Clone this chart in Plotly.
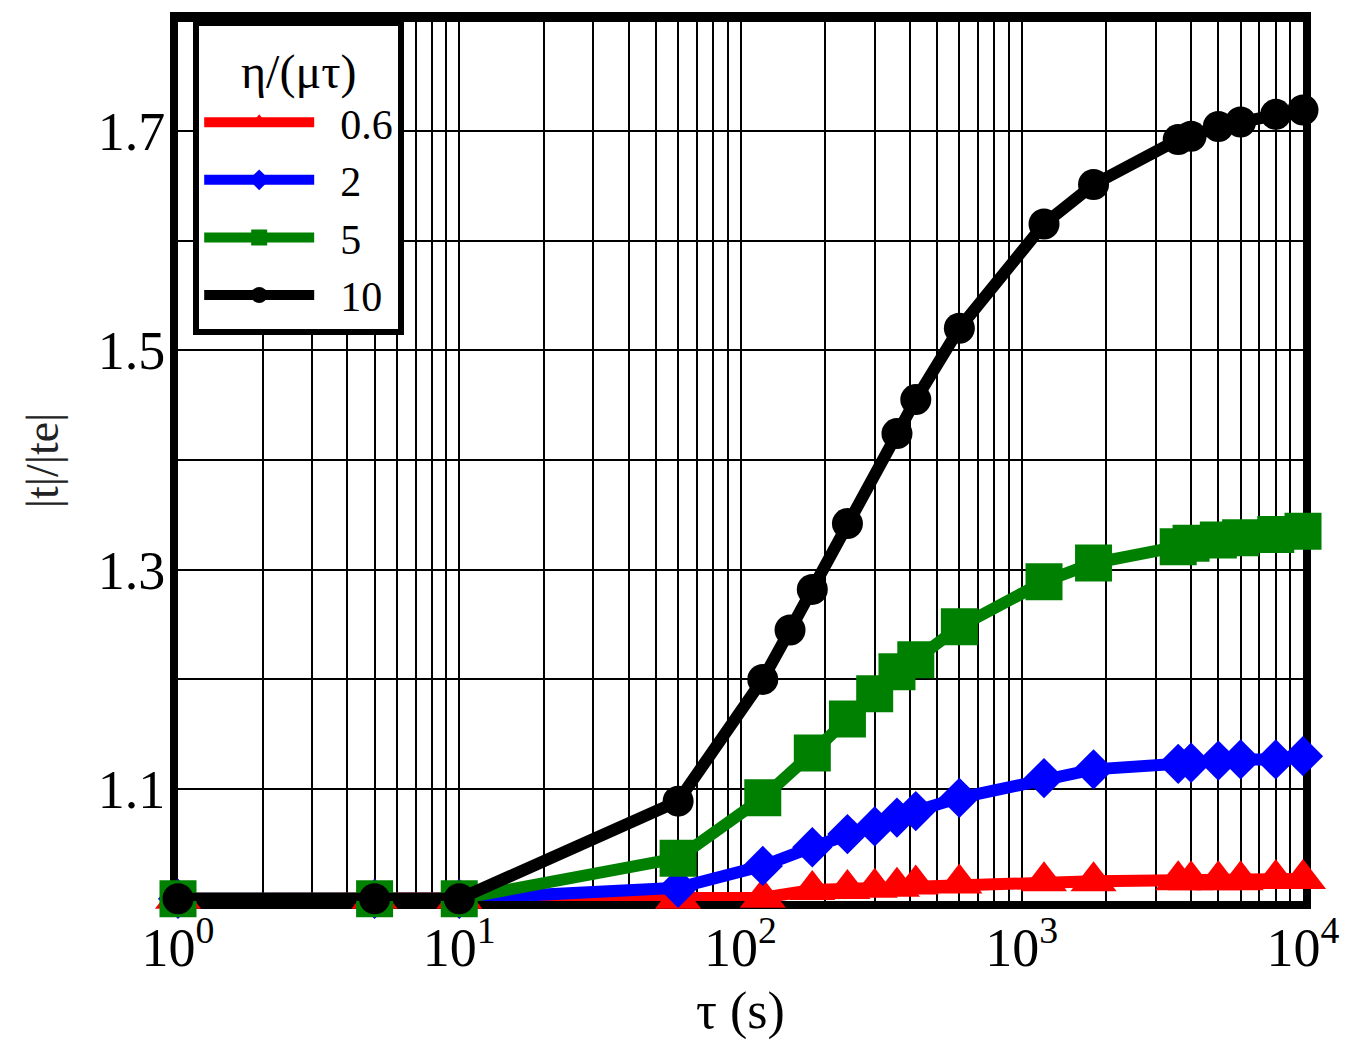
import plotly.graph_objects as go

# ---------------- data ----------------
tau_black = [1, 5, 10, 60, 120, 150, 180, 240, 360, 420, 600, 1200, 1800,
             3600, 4000, 5000, 6000, 8000, 10000]
tau_other = [1, 5, 10, 60, 120, 180, 240, 300, 360, 420, 600, 1200, 1800,
             3600, 4000, 5000, 6000, 8000, 10000]

ratio_06 = [1.0, 1.0, 1.0, 1.0, 1.001, 1.008, 1.009, 1.010, 1.011, 1.013, 1.014,
            1.016, 1.016, 1.017, 1.017, 1.017, 1.017, 1.018, 1.018]
ratio_2 = [1.0, 1.0, 1.0, 1.010, 1.030, 1.047, 1.059, 1.066, 1.074, 1.080, 1.092,
           1.110, 1.118, 1.123, 1.124, 1.126, 1.127, 1.127, 1.130]
ratio_5 = [1.0, 1.0, 1.0, 1.037, 1.092, 1.133, 1.164, 1.187, 1.207, 1.218, 1.248,
           1.289, 1.306, 1.321, 1.324, 1.327, 1.329, 1.332, 1.335]
ratio_10 = [1.0, 1.0, 1.0, 1.089, 1.200, 1.245, 1.282, 1.342, 1.424, 1.455, 1.520,
            1.615, 1.651, 1.692, 1.695, 1.704, 1.708, 1.715, 1.719]

series_names = ["0.6", "2", "5", "10"]
series_colors = ["#ff0000", "#0000ff", "#008000", "#000000"]
series_symbols = ["triangle-up", "diamond", "square", "circle"]
series_sizes = [40, 31, 37, 31]

y_tick_vals = [1.1, 1.2, 1.3, 1.4, 1.5, 1.6, 1.7, 1.8]
y_tick_text = ["1.1", "", "1.3", "", "1.5", "", "1.7", ""]

decades = [1, 10, 100, 1000]
decade_labels = ["10<sup>0</sup>", "10<sup>1</sup>", "10<sup>2</sup>", "10<sup>3</sup>"]
x_tick_vals = []
x_tick_text = []
for d, lab in zip(decades, decade_labels):
    for m in range(1, 10):
        x_tick_vals.append(d * m)
        x_tick_text.append(lab if m == 1 else "")
x_tick_vals.append(10000)
x_tick_text.append("10<sup>4</sup>")

FONT = "Liberation Serif, Times New Roman, serif"

fig = go.Figure()
xs = [tau_other, tau_other, tau_other, tau_black]
ys = [ratio_06, ratio_2, ratio_5, ratio_10]
for x, y, name, col, sym, sz in zip(xs, ys, series_names, series_colors,
                                    series_symbols, series_sizes):
    fig.add_trace(go.Scatter(
        x=x, y=y, name="\u2002" + name, mode="lines+markers",
        line=dict(color=col, width=12),
        marker=dict(symbol=sym, size=sz, color=col, line=dict(width=0)),
        cliponaxis=False,
    ))

fig.update_layout(
    width=1369, height=1053,
    margin=dict(l=178, r=66, t=12, b=152),
    plot_bgcolor="white", paper_bgcolor="white",
    font=dict(family=FONT, color="black"),
    showlegend=True,
    legend=dict(
        x=0.0135, y=1.0, xanchor="left", yanchor="top",
        bgcolor="white", bordercolor="black", borderwidth=6,
        font=dict(family=FONT, size=42, color="black"),
        title=dict(text="η/(μτ)", side="top center",
                   font=dict(family=FONT, size=48, color="black")),
        itemwidth=110, itemsizing="trace", traceorder="normal",
    ),
)

fig.update_xaxes(
    type="log", range=[0, 4],
    tickvals=x_tick_vals, ticktext=x_tick_text,
    tickfont=dict(family=FONT, size=54, color="black"),
    ticklabelstandoff=-8,
    ticks="", showgrid=True, gridcolor="black", gridwidth=2,
    showline=True, linecolor="black", linewidth=8, mirror=True,
    zeroline=False, layer="below traces",
    title=dict(text="τ (s)", font=dict(family=FONT, size=52, color="black"),
               standoff=18),
)
fig.update_yaxes(
    range=[0.998, 1.801],
    tickvals=y_tick_vals, ticktext=y_tick_text,
    tickfont=dict(family=FONT, size=54, color="black"),
    ticklabelstandoff=-6,
    ticks="", showgrid=True, gridcolor="black", gridwidth=2,
    showline=True, linecolor="black", linewidth=8, mirror=True,
    zeroline=False, layer="below traces",
    title=dict(text="|t|/|te|", font=dict(family=FONT, size=46, color="#222"),
               standoff=28),
)

fig.write_html("out.html")
